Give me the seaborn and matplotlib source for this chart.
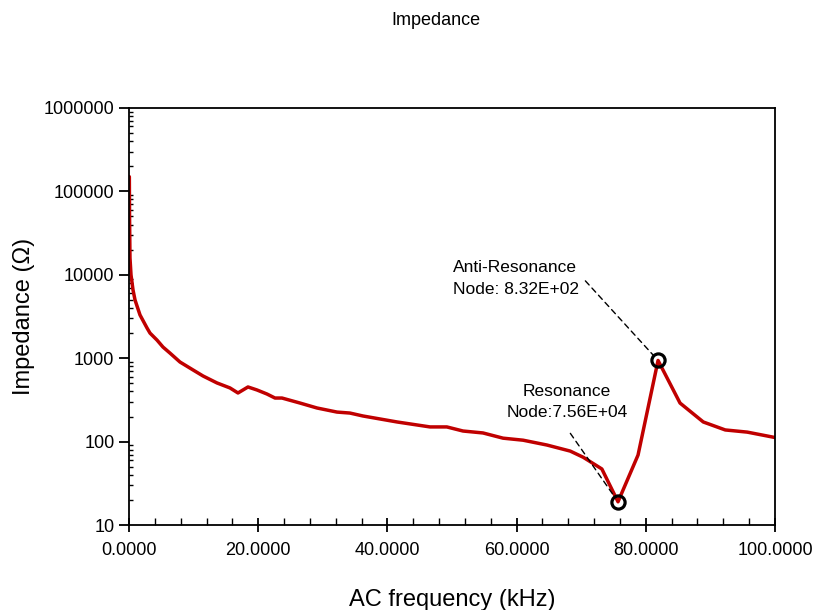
import numpy as np
import pandas as pd
import matplotlib
matplotlib.use("Agg")
import matplotlib.pyplot as plt
from matplotlib.ticker import FixedLocator, FuncFormatter, LogLocator, MultipleLocator, NullFormatter
import seaborn as sns

freq_khz = [0.05, 0.08, 0.15, 0.31, 0.62, 0.93, 1.70, 2.79, 3.25, 4.33, 5.26, 6.35, 7.89,
            9.91, 11.46, 13.62, 15.63, 16.87, 18.42, 19.81, 21.36, 22.6, 23.68, 26.47,
            29.1, 32.2, 34.2, 36.2, 41.5, 46.6, 49.2, 51.7, 54.8, 57.9, 61.0, 64.7,
            68.3, 70.3, 73.2, 75.7, 78.8, 81.9, 85.3, 88.9, 92.3, 95.7, 100.0]
impedance = [150000, 52000, 15900, 9950, 6570, 4990, 3300, 2300, 2000, 1650, 1360, 1150, 900,
             723, 612, 505, 440, 383, 452, 416, 372, 333, 333, 290,
             253, 226, 220, 203, 172, 150, 150, 134, 127, 110, 104, 91,
             77, 65, 47, 19, 69, 940, 290, 172, 138, 130, 112]

resonance_x, resonance_y = 75.7, 19
anti_x, anti_y = 81.9, 940

y_ticks = [10, 100, 1000, 10000, 100000, 1000000]
x_ticks = [0, 20, 40, 60, 80, 100]

sns.set_style("ticks")
plt.rcParams['font.family'] = ['Liberation Sans', 'DejaVu Sans']
for k in ["text.color", "axes.labelcolor", "xtick.color", "ytick.color", "axes.edgecolor"]:
    plt.rcParams[k] = "black"

fig = plt.figure(figsize=(8.15, 6.1), dpi=100)
ax = fig.add_axes([0.1583, 0.1393, 0.7926, 0.6837])

df = pd.DataFrame({"freq": freq_khz, "imp": impedance})
sns.lineplot(data=df, x="freq", y="imp", ax=ax, color="#c00000", linewidth=2.5,
             sort=False, estimator=None)
ax.set_yscale("log")
ax.set_xlim(0, 100)
ax.set_ylim(10, 1000000)

ax.plot([resonance_x, anti_x], [resonance_y, anti_y], linestyle="none", marker="o",
        markersize=9.5, markerfacecolor="none", markeredgecolor="black", markeredgewidth=2.3)

ax.annotate("Anti-Resonance\nNode: 8.32E+02", xy=(anti_x, anti_y), xytext=(50.2, 9000),
            fontsize=12.5, ha="left", va="center", linespacing=1.55,
            arrowprops=dict(arrowstyle="-", linestyle=(0, (4, 3)), color="black", lw=1,
                            shrinkA=3, shrinkB=5, relpos=(1.0, 0.62)))
ax.annotate("Resonance\nNode:7.56E+04", xy=(resonance_x, resonance_y), xytext=(67.8, 300),
            fontsize=12.5, ha="center", va="center", linespacing=1.5,
            arrowprops=dict(arrowstyle="-", linestyle=(0, (4, 3)), color="black", lw=1,
                            shrinkA=9, shrinkB=5, relpos=(0.45, 0.0)))

ax.yaxis.set_major_locator(FixedLocator(y_ticks))
ax.yaxis.set_major_formatter(FuncFormatter(lambda v, p: f"{int(round(v))}"))
ax.yaxis.set_minor_locator(LogLocator(base=10, subs=np.arange(2, 10)))
ax.yaxis.set_minor_formatter(NullFormatter())
ax.xaxis.set_major_locator(FixedLocator(x_ticks))
ax.xaxis.set_major_formatter(FuncFormatter(lambda v, p: f"{v:.4f}"))
ax.xaxis.set_minor_locator(MultipleLocator(4))

ax.tick_params(axis="y", which="major", direction="out", length=7, width=1.3, labelsize=13)
ax.tick_params(axis="y", which="minor", direction="in", length=3, width=1)
ax.tick_params(axis="x", which="major", direction="inout", length=10, width=1.3, labelsize=13, pad=7)
ax.tick_params(axis="x", which="minor", direction="in", length=5, width=1)

for s in ax.spines.values():
    s.set_visible(True)
    s.set_linewidth(1.3)
    s.set_color("black")

ax.set_xlabel("AC frequency (kHz)", fontsize=17, labelpad=22)
ax.set_ylabel("Impedance (Ω)", fontsize=17, labelpad=6)
fig.text(0.535, 0.967, "Impedance", ha="center", va="center", fontsize=13)

fig.savefig("out.png", dpi=100)
